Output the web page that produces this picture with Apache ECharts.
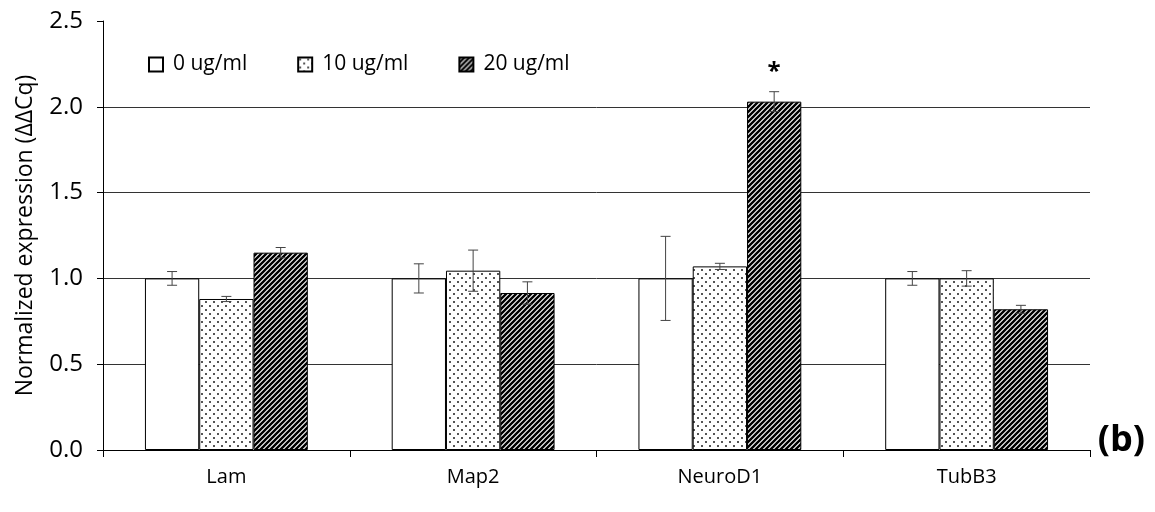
<!DOCTYPE html>
<html>
<head>
<meta charset="utf-8">
<script src="https://cdn.jsdelivr.net/npm/echarts@6/dist/echarts.min.js"></script>
<style>
  html, body { margin: 0; padding: 0; background: #fff; }
  #chart { width: 1155px; height: 512px; }
</style>
</head>
<body>
<div id="chart"></div>
<script>
var genes = ['Lam', 'Map2', 'NeuroD1', 'TubB3'];
var doses = ['0 ug/ml', '10 ug/ml', '20 ug/ml'];
// mean expression per dose, one value per gene
var dose0 = [1.00, 1.00, 1.00, 1.00];
var dose10 = [0.88, 1.045, 1.07, 1.00];
var dose20 = [1.15, 0.915, 2.03, 0.82];
// error bar half-lengths
var err0 = [0.04, 0.085, 0.245, 0.04];
var err10 = [0.015, 0.12, 0.018, 0.045];
var err20 = [0.03, 0.065, 0.058, 0.023];
// significance marks for the 20 ug/ml series
var marks20 = ['', '', '*', ''];
var yTicks = [0, 0.5, 1.0, 1.5, 2.0, 2.5];

var FONT = '"Open Sans", "Liberation Sans", sans-serif';

// fill patterns like the office chart
function dotPattern() {
  var c = document.createElement('canvas');
  c.width = 8; c.height = 8;
  var ctx = c.getContext('2d');
  ctx.fillStyle = '#fff';
  ctx.fillRect(0, 0, 8, 8);
  ctx.fillStyle = '#555';
  ctx.fillRect(1, 1, 2, 2);
  ctx.fillRect(5, 5, 2, 2);
  return c;
}
function stripePattern() {
  var p = 5;
  var c = document.createElement('canvas');
  c.width = p; c.height = p;
  var ctx = c.getContext('2d');
  ctx.fillStyle = '#fff';
  ctx.fillRect(0, 0, p, p);
  ctx.strokeStyle = '#000';
  ctx.lineWidth = 2.4;
  ctx.beginPath();
  ctx.moveTo(-1, p + 1); ctx.lineTo(p + 1, -1);
  ctx.moveTo(-2, 2); ctx.lineTo(2, -2);
  ctx.moveTo(p - 2, p + 2); ctx.lineTo(p + 2, p - 2);
  ctx.stroke();
  return c;
}

var fills = [
  '#ffffff',
  { image: dotPattern(), repeat: 'repeat' },
  { image: stripePattern(), repeat: 'repeat' }
];
var means = [dose0, dose10, dose20];
var errs = [err0, err10, err20];

var chart = echarts.init(document.getElementById('chart'));

var series = [];
doses.forEach(function (name, i) {
  series.push({
    name: name,
    type: 'bar',
    data: means[i],
    barGap: '0%',
    barCategoryGap: '34%',
    itemStyle: { color: fills[i], borderColor: '#000', borderWidth: 1 },
    emphasis: { disabled: true },
    animation: false
  });
});

// error bars (and the asterisk) drawn on top of the bars
var errData = [];
genes.forEach(function (g, gi) {
  doses.forEach(function (d, di) {
    errData.push([gi, di, means[di][gi], errs[di][gi], di === 2 ? marks20[gi] : '']);
  });
});

series.push({
  type: 'custom',
  data: errData,
  z: 10,
  silent: true,
  animation: false,
  renderItem: function (params, api) {
    var gi = api.value(0), di = api.value(1);
    var mean = api.value(2), e = api.value(3);
    var band = api.size([1, 0])[0];
    var barW = band * 0.66 / 3;
    var cx = api.coord([gi, 0])[0] + (di - 1) * barW;
    var top = api.coord([gi, mean + e])[1];
    var bot = api.coord([gi, mean - e])[1];
    var cap = 5;
    var st = { stroke: '#444', lineWidth: 1 };
    var kids = [
      { type: 'line', shape: { x1: cx, y1: top, x2: cx, y2: bot }, style: st },
      { type: 'line', shape: { x1: cx - cap, y1: top, x2: cx + cap, y2: top }, style: st },
      { type: 'line', shape: { x1: cx - cap, y1: bot, x2: cx + cap, y2: bot }, style: st }
    ];
    var mark = api.value(4);
    if (mark) {
      kids.push({
        type: 'text',
        style: {
          text: mark, x: cx, y: top - 8,
          align: 'center', verticalAlign: 'bottom',
          font: 'bold 24px ' + FONT, fill: '#000'
        }
      });
    }
    return { type: 'group', children: kids };
  }
});

chart.setOption({
  backgroundColor: '#fff',
  animation: false,
  title: {
    text: '(b)',
    right: 5,
    bottom: 48,
    textStyle: { fontFamily: FONT, fontSize: 36, fontWeight: 'bold', color: '#000' }
  },
  legend: {
    data: doses,
    left: 143,
    top: 49,
    itemWidth: 14,
    itemHeight: 14,
    itemGap: 50,
    icon: 'rect',
    textStyle: { fontFamily: FONT, fontSize: 21, color: '#000', padding: [0, 0, 0, 5] }
  },
  grid: { left: 103, right: 65, top: 21, bottom: 62 },
  xAxis: {
    type: 'category',
    data: genes,
    axisLine: { lineStyle: { color: '#000', width: 1 } },
    axisTick: { show: true, length: 7, lineStyle: { color: '#000' } },
    axisLabel: { fontFamily: FONT, fontSize: 20, color: '#000', margin: 17 }
  },
  yAxis: {
    type: 'value',
    min: yTicks[0],
    max: yTicks[yTicks.length - 1],
    interval: 0.5,
    name: 'Normalized expression (ΔΔCq)',
    nameLocation: 'middle',
    nameGap: 66,
    nameTextStyle: { fontFamily: FONT, fontSize: 23, color: '#000' },
    axisLine: { show: true, lineStyle: { color: '#000', width: 1 } },
    axisTick: { show: true, length: 6, lineStyle: { color: '#000' } },
    axisLabel: {
      fontFamily: FONT, fontSize: 24, color: '#000', margin: 20,
      formatter: function (v) { return v.toFixed(1); }
    },
    splitLine: { show: true, showMaxLine: false, lineStyle: { color: '#333', width: 1 } }
  },
  series: series
});
</script>
</body>
</html>
